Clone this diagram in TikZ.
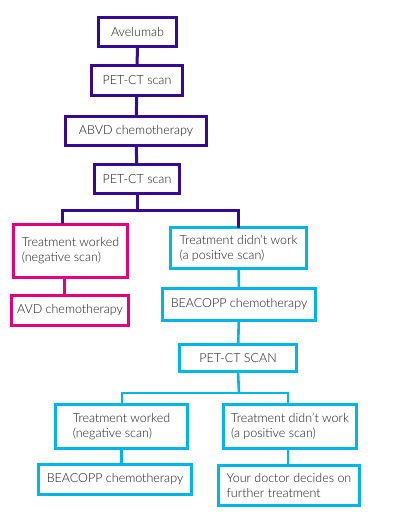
\documentclass[tikz,border=0pt]{standalone}
\usepackage{fontspec}
\setmainfont{Lato Light}
\usetikzlibrary{calc}
\definecolor{avpurple}{RGB}{55,10,150}
\definecolor{avpink}{RGB}{229,0,125}
\definecolor{avcyan}{RGB}{0,181,236}

\begin{document}
\begin{tikzpicture}[x=1pt,y=-1pt,
  box/.style={draw,line width=3.2pt,inner sep=0pt,outer sep=0pt,align=left,font=\fontsize{12.5}{15}\selectfont,text=black!90},
  purplebox/.style={box,draw=avpurple},
  pinkbox/.style={box,draw=avpink},
  cyanbox/.style={box,draw=avcyan},
  purpleline/.style={avpurple,line width=3pt},
  pinkline/.style={avpink,line width=3pt},
  cyanline/.style={avcyan,line width=2.6pt}]
  \useasboundingbox (0,0) rectangle (400,518);

  % top column
  \node[purplebox,minimum width=78,minimum height=29] (avel) at (137.5,32) {Avelumab};
  \node[purplebox,minimum width=91,minimum height=30] (pet1) at (137,80.5) {PET-CT scan};
  \node[purplebox,minimum width=141,minimum height=29] (abvd) at (136,131) {ABVD chemotherapy};
  \node[purplebox,minimum width=85,minimum height=29] (pet2) at (137,179) {PET-CT scan};

  % first split
  \node[pinkbox,minimum width=114,minimum height=53] (worked1) at (70.5,251) {Treatment worked\\(negative scan)};
  \node[cyanbox,minimum width=136,minimum height=41] (failed1) at (238.5,248) {Treatment didn't work\\(a positive scan)};
  \node[pinkbox,minimum width=117,minimum height=30] (avd) at (70,310.5) {AVD chemotherapy};
  \node[cyanbox,minimum width=153,minimum height=32] (beacopp1) at (239,304.5) {BEACOPP chemotherapy};
  \node[cyanbox,minimum width=117,minimum height=27] (pet3) at (238,358) {PET-CT SCAN};

  % second split
  \node[cyanbox,minimum width=132,minimum height=44] (worked2) at (121.5,426.5) {Treatment worked\\(negative scan)};
  \node[cyanbox,minimum width=133,minimum height=44] (failed2) at (290,426.5) {Treatment didn't work\\(a positive scan)};
  \node[cyanbox,minimum width=153,minimum height=30] (beacopp2) at (115,479.5) {BEACOPP chemotherapy};
  \node[cyanbox,minimum width=141,minimum height=40] (doctor) at (289,485.5) {Your doctor decides on\\further treatment};

  \coordinate (split1) at (137,211);
  \coordinate (left1) at (62,211);
  \coordinate (right1) at (238,211);
  \coordinate (split2) at (239,393);
  \coordinate (left2) at (122,393);
  \coordinate (right2) at (288,393);

  \draw[purpleline] (avel) -- (pet1);
  \draw[purpleline] (pet1) -- (abvd);
  \draw[purpleline] (abvd) -- (pet2);
  \draw[purpleline] (pet2.south) -- (split1);
  \draw[purpleline,line cap=rect] (left1) -- (right1);
  \draw[purpleline] (left1) -- (left1 |- worked1.north);
  \draw[purpleline] (right1) -- (right1 |- failed1.north);

  \draw[pinkline] ([xshift=-6.5pt]worked1.south) -- ([xshift=-6pt]avd.north);
  \draw[cyanline] (failed1) -- (beacopp1);
  \draw[cyanline] (beacopp1) -- (pet3);
  \draw[cyanline] (pet3.south) -- (split2);
  \draw[cyanline,line cap=rect] (left2) -- (right2);
  \draw[cyanline] (left2) -- (left2 |- worked2.north);
  \draw[cyanline] (right2) -- (right2 |- failed2.north);
  \draw[cyanline] (worked2.south) -- (worked2.south |- beacopp2.north);
  \draw[cyanline] (right2 |- failed2.south) -- (right2 |- doctor.north);
\end{tikzpicture}
\end{document}
